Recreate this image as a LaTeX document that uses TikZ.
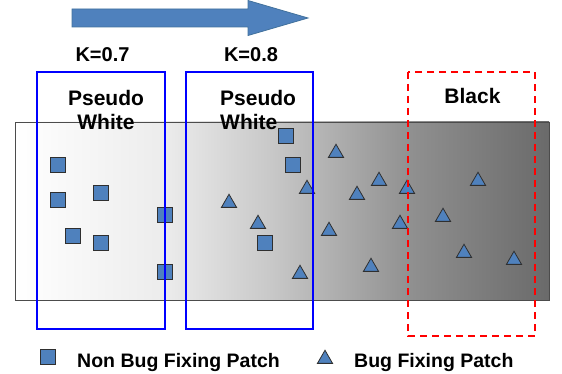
\documentclass[tikz,border=0pt]{standalone}
\usepackage{fontspec}
\setmainfont{Liberation Sans}
\usetikzlibrary{shapes.geometric}
\definecolor{patchblue}{HTML}{4F81BD}
\definecolor{patchedge}{HTML}{2F2F2F}
\definecolor{arrowedge}{HTML}{41719C}
\pgfdeclarehorizontalshading{fade}{100bp}{color(0bp)=(white); color(25bp)=(white); color(39bp)=(black!7.5); color(49bp)=(black!21.6); color(62bp)=(black!43.5); color(75bp)=(black!58.4); color(100bp)=(black!58.4)}
\tikzset{
	sqpatch/.style={draw=patchedge, fill=patchblue, line width=0.8pt, minimum size=14.5pt, inner sep=0pt},
	tripatch/.style={regular polygon, regular polygon sides=3, draw=patchedge, fill=patchblue, line width=0.8pt, minimum size=17.5pt, inner sep=0pt},
	lbl/.style={font=\bfseries\fontsize{21}{25}\selectfont, inner sep=0pt},
	klbl/.style={font=\bfseries\fontsize{20}{24}\selectfont, inner sep=0pt},
	leg/.style={font=\bfseries\fontsize{19.5}{23}\selectfont, inner sep=0pt},
	kbox/.style={draw=blue, line width=2pt},
	blackbox/.style={draw=red, line width=2pt, dash pattern=on 7pt off 5pt}
}
\begin{document}
\begin{tikzpicture}[x=1pt, y=-1pt]
	\useasboundingbox (0,0) rectangle (562,374);
	% direction arrow
	\filldraw[fill=patchblue, draw=arrowedge, line width=0.8pt] (72,9) -- (248,9) -- (248,0.5) -- (308,18) -- (248,35.5) -- (248,27) -- (72,27) -- cycle;
	% shaded band
	\shade[shading=fade, draw=black!70, line width=0.8pt] (15,122) rectangle (549,300);
	% patches
	\foreach \x/\y [count=\i] in {58/165, 58/200, 101/193, 73/236, 101/243, 165/215, 165/272, 265/243, 286/136, 293/165}
		\node[sqpatch] (sq\i) at (\x,\y) {};
	\foreach \x/\y [count=\i] in {229/201, 258/222, 336/151, 307/187, 379/179, 357/193, 407/187, 478/179, 443/215, 400/222, 329/229, 464/251, 514/258, 371/265, 300/272}
		\node[tripatch] (tr\i) at (\x,\y+2) {};
	% boxes
	\draw[kbox] (37,72) rectangle (165,329);
	\draw[kbox] (186,72) rectangle (313,329);
	\draw[blackbox] (408,72) rectangle (535,336);
	% labels
	\node[klbl, anchor=base] (k1) at (102.5,62) {K=0.7};
	\node[klbl, anchor=base] (k2) at (251,62) {K=0.8};
	\node[lbl, anchor=base] (ps1) at (106,106) {Pseudo};
	\node[lbl, anchor=base] (wh1) at (106,130) {White};
	\node[lbl, anchor=base west] (ps2) at (220,106) {Pseudo};
	\node[lbl, anchor=base west] (wh2) at (220,130) {White};
	\node[lbl, anchor=base] (blk) at (472.5,104) {Black};
	% legend
	\node[sqpatch] (legsq) at (48,357) {};
	\node[leg, anchor=base west] (legnb) at (77,367) {Non Bug Fixing Patch};
	\node[tripatch] (legtr) at (325,359) {};
	\node[leg, anchor=base west] (legb) at (354,367) {Bug Fixing Patch};
\end{tikzpicture}
\end{document}
